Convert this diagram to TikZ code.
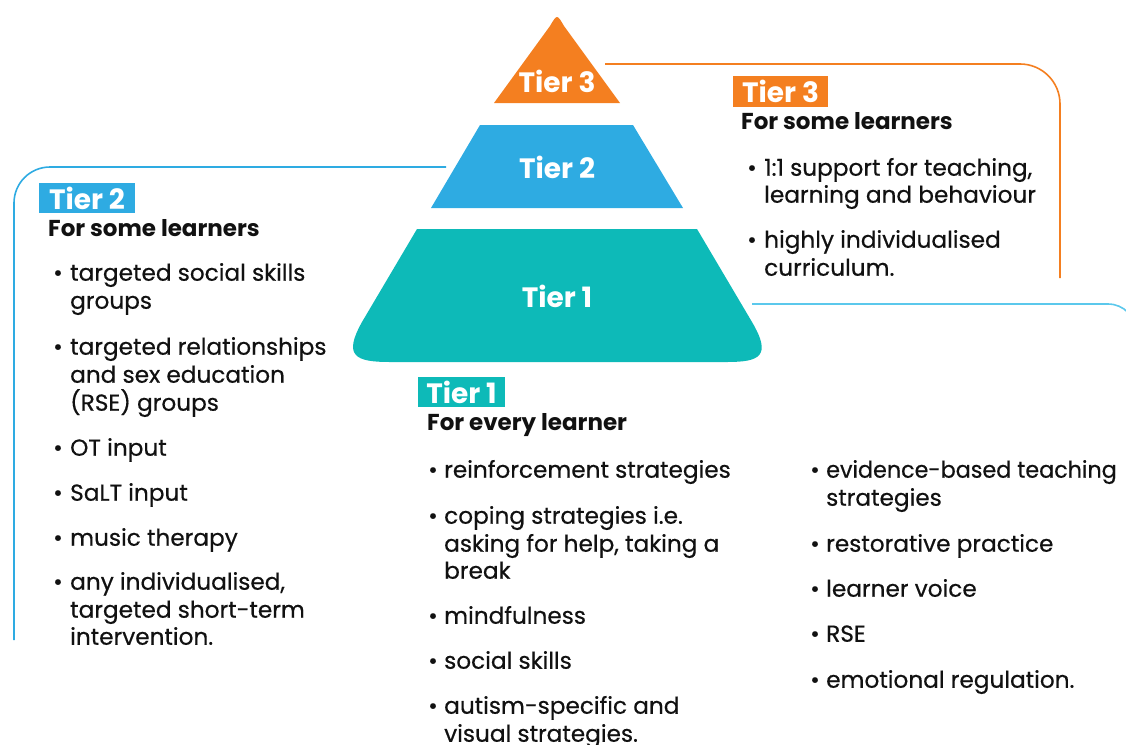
\documentclass[tikz,border=0pt]{standalone}
\usepackage{fontspec}
\setmainfont{Poppins}
\newfontfamily\bodyfont[FakeBold=0.5]{Poppins}
\definecolor{tOrange}{HTML}{F47F20}
\definecolor{tBlue}{HTML}{2EABE2}
\definecolor{tTeal}{HTML}{0DBAB8}
\definecolor{tLine}{HTML}{5BC8EC}
\definecolor{tInk}{HTML}{111111}
\tikzset{
  body/.style={anchor=mid west, inner sep=0pt, text=tInk, font=\bodyfont\fontsize{23.2}{26}\selectfont},
  head/.style={anchor=mid west, inner sep=0pt, text=tInk, font=\bfseries\fontsize{23}{26}\selectfont},
  bul/.style={anchor=mid, inner sep=0pt, text=tInk, font=\bodyfont\fontsize{23}{26}\selectfont},
  pyr/.style={text=white, font=\bfseries\fontsize{28}{30}\selectfont},
  tag/.style={anchor=center, text=white, inner sep=0pt, font=\bfseries\fontsize{28}{30}\selectfont},
  bracket/.style={line width=1.6pt},
}
\begin{document}
\begin{tikzpicture}[x=1pt,y=-1pt]
\useasboundingbox (0,0) rectangle (1126,744);
\clip (0,0) rectangle (1126,744);
% pyramid
\fill[tOrange] (494,103) -- (550,26) .. controls (557,14) .. (564,26) -- (620,103) -- cycle;
\fill[tBlue] (480,125) -- (633,125) -- (683,208) -- (431,208) -- cycle;
\fill[tTeal] (417,229) -- (697,229) -- (752,322) .. controls (772,356) and (760,362) .. (727,362) -- (390,362) .. controls (355,362) and (343,356) .. (362,322) -- cycle;
\node[pyr] (p3) at (557,81) {Tier 3};
\node[pyr] (p2) at (557,167) {Tier 2};
\node[pyr] (p1) at (557,296) {Tier 1};
% brackets
\coordinate (b2s) at (446,167);
\coordinate (b2c) at (14,167);
\coordinate (b2e) at (14,640);
\draw[bracket, tBlue, rounded corners=36pt] (b2s) -- (b2c) -- (b2e);
\coordinate (b3s) at (605,64);
\coordinate (b3c) at (1060,64);
\coordinate (b3e) at (1060,278);
\draw[bracket, tOrange, rounded corners=40pt] (b3s) -- (b3c) -- (b3e);
\coordinate (b1s) at (752,304);
\coordinate (b1c) at (1136,304);
\coordinate (b1e) at (1136,420);
\draw[bracket, tLine, rounded corners=28pt] (b1s) -- (b1c) -- (b1e);
% Tier 2 panel
\node[tag, fill=tBlue, minimum width=96pt, minimum height=30pt] (t2tag) at (87,198) {Tier 2};
\node[head] (t2h) at (48,234) {For some learners};
\node[bul] (t2b1) at (58,278) {•}; \node[body] (t2l1) at (70,278) {targeted social skills};
\node[body] (t2l2) at (70,306) {groups};
\node[bul] (t2b2) at (58,352) {•}; \node[body] (t2l3) at (70,352) {targeted relationships};
\node[body] (t2l4) at (70,380) {and sex education};
\node[body] (t2l5) at (70,408) {(RSE) groups};
\node[bul] (t2b3) at (58,453) {•}; \node[body] (t2l6) at (70,453) {OT input};
\node[bul] (t2b4) at (58,498) {•}; \node[body] (t2l7) at (70,498) {SaLT input};
\node[bul] (t2b5) at (58,543) {•}; \node[body] (t2l8) at (70,543) {music therapy};
\node[bul] (t2b6) at (58,587) {•}; \node[body] (t2l9) at (70,587) {any individualised,};
\node[body] (t2l10) at (70,615) {targeted short-term};
\node[body] (t2l11) at (70,642) {intervention.};
% Tier 3 panel
\node[tag, fill=tOrange, minimum width=95pt, minimum height=31pt] (t3tag) at (780.5,91.5) {Tier 3};
\node[head] (t3h) at (741,127) {For some learners};
\node[bul] (t3b1) at (752,173) {•}; \node[body] (t3l1) at (764,173) {1:1 support for teaching,};
\node[body] (t3l2) at (764,200) {learning and behaviour};
\node[bul] (t3b2) at (752,245) {•}; \node[body] (t3l3) at (764,245) {highly individualised};
\node[body] (t3l4) at (764,273) {curriculum.};
% Tier 1 panel
\node[tag, fill=tTeal, minimum width=87pt, minimum height=30pt] (t1tag) at (461.5,392) {Tier 1};
\node[head] (t1h) at (427,428) {For every learner};
\node[bul] (t1b1) at (433,475) {•}; \node[body] (t1l1) at (444,475) {reinforcement strategies};
\node[bul] (t1b2) at (433,521) {•}; \node[body] (t1l2) at (444,521) {coping strategies i.e.};
\node[body] (t1l3) at (444,549) {asking for help, taking a};
\node[body] (t1l4) at (444,576) {break};
\node[bul] (t1b3) at (433,621) {•}; \node[body] (t1l5) at (444,621) {mindfulness};
\node[bul] (t1b4) at (433,666) {•}; \node[body] (t1l6) at (444,666) {social skills};
\node[bul] (t1b5) at (433,711) {•}; \node[body] (t1l7) at (444,711) {autism-specific and};
\node[body] (t1l8) at (444,739) {visual strategies.};
\node[bul] (t1b6) at (815,475) {•}; \node[body] (t1r1) at (826,475) {\scalebox{0.96}[1]{evidence-based teaching}};
\node[body] (t1r2) at (826,503) {strategies};
\node[bul] (t1b7) at (815,549) {•}; \node[body] (t1r3) at (826,549) {restorative practice};
\node[bul] (t1b8) at (815,594) {•}; \node[body] (t1r4) at (826,594) {learner voice};
\node[bul] (t1b9) at (815,639) {•}; \node[body] (t1r5) at (826,639) {RSE};
\node[bul] (t1b10) at (815,685) {•}; \node[body] (t1r6) at (826,685) {emotional regulation.};
\end{tikzpicture}
\end{document}
